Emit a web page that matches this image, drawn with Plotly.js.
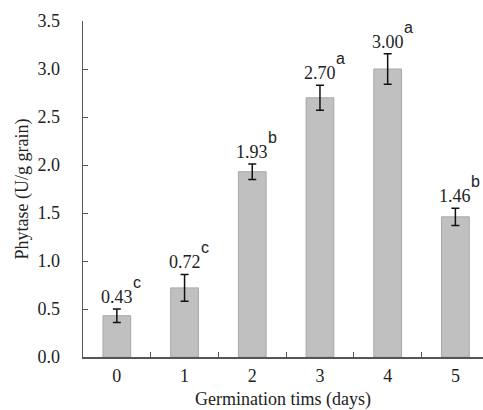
<!DOCTYPE html>
<html><head><meta charset="utf-8">
<script src="https://cdn.plot.ly/plotly-3.0.1.min.js"></script>
<style>html,body{margin:0;padding:0;background:#fff}</style>
</head><body>
<div id="chart" style="width:483px;height:410px"></div>
<script>
const days = ["0","1","2","3","4","5"];
const phytase = [0.43, 0.72, 1.93, 2.70, 3.00, 1.46];
const errors = [0.07, 0.14, 0.08, 0.13, 0.16, 0.09];
const valueLabels = ["0.43","0.72","1.93","2.70","3.00","1.46"];
const letters = ["c","c","b","a","a","b"];
const yTicks = [0, 0.5, 1, 1.5, 2, 2.5, 3, 3.5];

const serif = "Liberation Serif, Times New Roman, serif";
const ann = [];
days.forEach((d, i) => {
  ann.push({x: i, y: phytase[i] + errors[i], xref: "x", yref: "y", text: valueLabels[i],
    showarrow: false, yanchor: "bottom", yshift: 0, font: {family: serif, size: 18, color: "#222"}});
  ann.push({x: i, y: phytase[i] + errors[i], xref: "x", yref: "y", text: letters[i],
    showarrow: false, xanchor: "left", yanchor: "bottom", xshift: 14, yshift: 16,
    font: {family: "Liberation Sans, Arial, sans-serif", size: 16, color: "#222"}});
});

Plotly.newPlot("chart", [{
  type: "bar", x: days.map((d, i) => i), y: phytase, width: 0.41,
  marker: {color: "#c0c0c0", line: {color: "#a8a8a8", width: 1}},
  error_y: {type: "data", array: errors, visible: true, color: "#111", thickness: 1.5, width: 4}
}], {
  width: 483, height: 410,
  margin: {l: 83, r: 0, t: 21, b: 53},
  paper_bgcolor: "#fff", plot_bgcolor: "#fff",
  showlegend: false,
  xaxis: {range: [-0.5, 5.408], tickmode: "array", tickvals: days.map((d, i) => i), ticktext: days,
    ticks: "", showgrid: false, zeroline: false, showline: true, linecolor: "#555", linewidth: 1.5,
    tickfont: {family: serif, size: 18, color: "#222"}, ticklabelstandoff: 2,
    minor: {tickmode: "array", tickvals: [0.5, 1.5, 2.5, 3.5, 4.5], ticks: "inside", ticklen: 5, tickcolor: "#555", tickwidth: 1, showgrid: false},
    title: {text: "Germination tims (days)", font: {family: serif, size: 18, color: "#222"}, standoff: 9}},
  yaxis: {range: [0, 3.5], tickmode: "array", tickvals: yTicks, tickformat: ".1f",
    ticks: "inside", ticklen: 5, tickcolor: "#555", showgrid: false, zeroline: false,
    showline: true, linecolor: "#555", linewidth: 1.5,
    tickfont: {family: serif, size: 18, color: "#222"}, ticklabelstandoff: 18,
    title: {text: "Phytase (U/g grain)", font: {family: serif, size: 18, color: "#222"}, standoff: 4}},
  annotations: ann
}, {staticPlot: true});
</script>
</body></html>
